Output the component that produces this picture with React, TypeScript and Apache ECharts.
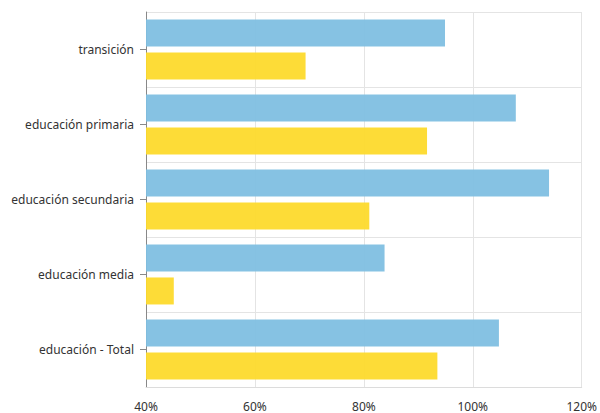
import React, { useEffect, useRef } from "react";
import * as echarts from "echarts";

const categories = [
  "transición",
  "educación primaria",
  "educación secundaria",
  "educación media",
  "educación - Total",
];
const seriesA = [94.9, 107.9, 114.0, 83.8, 104.8];
const seriesB = [69.3, 91.6, 81.0, 45.1, 93.5];
const xTicks = [40, 60, 80, 100, 120];

export default function App() {
  const ref = useRef<HTMLDivElement>(null);
  useEffect(() => {
    document.body.style.margin = "0";
    const chart = echarts.init(ref.current!, null, { renderer: "svg" });
    chart.setOption({
      animation: false,
      grid: { left: 146, right: 17, top: 12, bottom: 26, containLabel: false },
      xAxis: {
        type: "value",
        min: xTicks[0],
        max: xTicks[xTicks.length - 1],
        interval: 20,
        axisLine: { show: true, lineStyle: { color: "#dcdcdc" } },
        axisTick: { show: false },
        axisLabel: {
          formatter: (v: number) => v + "%",
          color: "#333",
          fontSize: 12,
          fontFamily: "Noto Sans",
          margin: 13,
        },
        splitLine: { show: true, lineStyle: { color: "#e4e4e4" } },
      },
      yAxis: {
        type: "category",
        data: categories,
        inverse: true,
        axisLine: { show: true, lineStyle: { color: "#888" } },
        axisTick: { show: true, alignWithLabel: true, length: 6, lineStyle: { color: "#888" } },
        axisLabel: { color: "#333", fontSize: 12, fontFamily: "Noto Sans", margin: 12 },
        splitLine: { show: true, lineStyle: { color: "#e4e4e4" } },
      },
      series: [
        {
          type: "bar",
          data: seriesA,
          barWidth: 27,
          barGap: "22%",
          itemStyle: { color: "#80bfe1", opacity: 0.95 },
          z: 1,
        },
        {
          type: "bar",
          data: seriesB,
          barWidth: 27,
          barGap: "22%",
          itemStyle: { color: "#fdda2c", opacity: 0.95 },
          z: 1,
        },
      ],
    });
    return () => chart.dispose();
  }, []);
  return <div ref={ref} style={{ width: 600, height: 413 }} />;
}
